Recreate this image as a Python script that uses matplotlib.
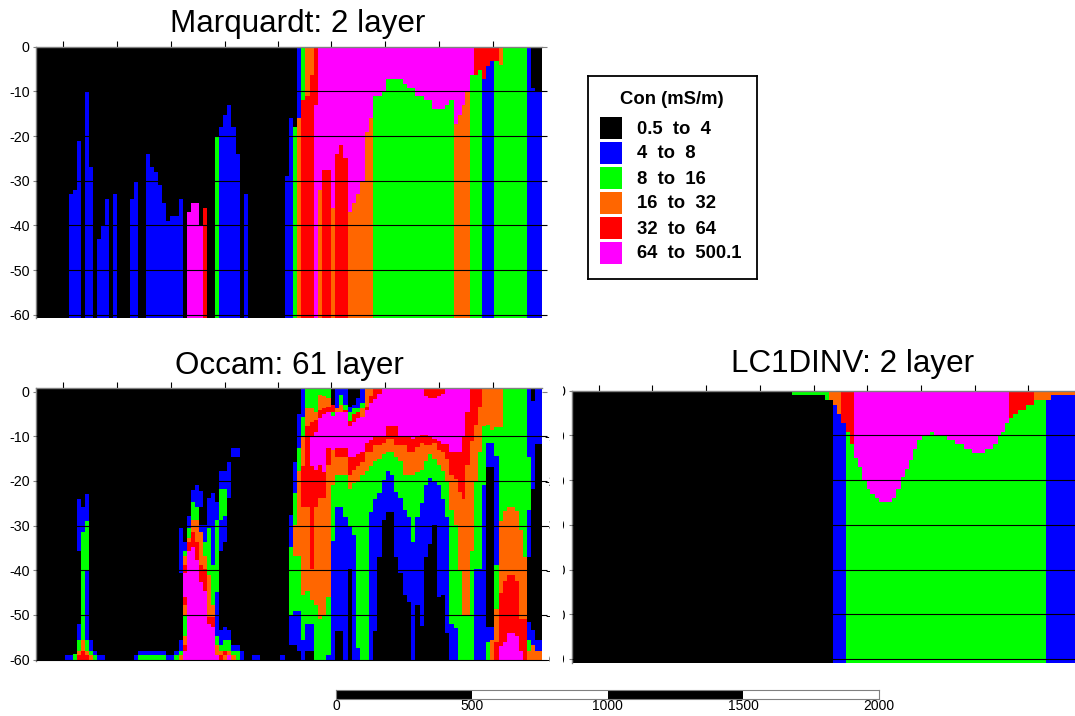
import matplotlib
matplotlib.use('Agg')
import matplotlib.pyplot as plt

plt.rcParams['font.family'] = ['Liberation Sans', 'DejaVu Sans']
plt.rcParams['axes.unicode_minus'] = False

# station edges along the line, metres
station_edges = [0, 15, 30, 45, 60, 75, 90, 105, 120, 135, 150, 165, 180, 195, 210, 225, 240, 255, 270, 285,
                 300, 315, 330, 345, 360, 375, 390, 405, 420, 435, 450, 465, 480, 495, 510, 525, 540, 555, 570, 585,
                 600, 615, 630, 645, 660, 675, 690, 705, 720, 735, 750, 765, 780, 795, 810, 825, 840, 855, 870, 885,
                 900, 917, 932, 947, 961, 976, 991, 1009, 1024, 1039, 1053, 1068, 1088, 1100, 1117, 1132, 1149, 1164,
                 1179, 1193, 1212, 1227, 1241, 1256, 1273, 1289, 1304, 1319, 1335, 1353, 1368, 1383, 1397, 1413, 1429,
                 1445, 1460, 1476, 1491, 1507, 1523, 1538, 1553, 1569, 1581, 1597, 1612, 1627, 1643, 1659, 1674, 1688,
                 1704, 1719, 1734, 1748, 1764, 1779, 1794, 1809, 1823, 1838, 1853, 1864]

class_keys = 'KBGORM'
class_labels = ['0.5  to  4', '4  to  8', '8  to  16', '16  to  32', '32  to  64', '64  to  500.1']
class_colors = ['#000000', '#0000ff', '#00ff00', '#ff6600', '#ff0000', '#ff00ff']

# each entry: first station, classes from the top down, depths of the class changes
marq_columns = [
    (0, 'K'), (8, 'KB', 33), (9, 'KB', 32), (10, 'KB', 21), (11, 'K'), (12, 'KB', 10), (13, 'KB', 27), (14, 'K'),
    (15, 'KB', 43), (16, 'KB', 40), (17, 'KB', 34), (18, 'K'), (19, 'KB', 33), (20, 'K'), (23, 'KB', 34),
    (24, 'KB', 30), (25, 'K'), (27, 'KB', 24), (28, 'KB', 27), (29, 'KB', 28), (30, 'KB', 31), (31, 'KB', 35),
    (32, 'KB', 39), (33, 'KB', 38), (35, 'KB', 34), (36, 'K'), (37, 'KM', 37), (38, 'KM', 35), (40, 'KM', 40),
    (41, 'KR', 36), (42, 'K'), (44, 'KG', 20), (45, 'KB', 18), (46, 'KB', 15.4), (47, 'KB', 13), (48, 'KB', 18),
    (49, 'KB', 24), (50, 'K'), (51, 'KB', 33), (52, 'K'), (61, 'KB', 29), (62, 'KB', 16), (63, 'KG', 18),
    (64, 'BO', 16), (65, 'GR', 12), (66, 'OR', 11), (67, 'OR', 6.3), (68, 'RM', 13), (69, 'MO', 32), (70, 'MR', 27.5),
    (72, 'MO', 36), (73, 'MR', 24), (74, 'MR', 22), (75, 'MR', 25), (76, 'MO', 37), (77, 'MO', 35), (78, 'MO', 33),
    (79, 'MO', 30), (80, 'MO', 19), (81, 'MO', 16), (82, 'MG', 11), (84, 'MG', 10), (85, 'MG', 7.3), (89, 'MG', 8.3),
    (90, 'MG', 9.3), (92, 'MG', 11), (94, 'MG', 12), (96, 'MG', 14), (99, 'MG', 13), (100, 'MG', 12), (101, 'MO', 17.2),
    (102, 'MO', 15.3), (103, 'MO', 13), (104, 'MO', 10), (105, 'MG', 6.3), (106, 'RG', 6.3), (107, 'RG', 5.3),
    (108, 'RB', 7.3), (109, 'RB', 4.3), (110, 'RB', 3.3), (111, 'RG', 3.3), (112, 'OG', 4.2), (113, 'G'), (119, 'B'),
    (120, 'KB', 9.3), (121, 'KB', 10),
]

occam_columns = [
    (0, 'K'), (7, 'KB', 59), (9, 'KG', 58.8), (10, 'KBKBGOR', 24, 35.7, 52, 55.7, 58, 59),
    (11, 'KBGOR', 25.8, 31.5, 55.7, 58), (12, 'KBGBGOR', 23, 29, 40, 55.7, 58, 59), (13, 'KBGO', 55.7, 58, 59),
    (14, 'KBG', 58, 59), (15, 'KB', 59), (17, 'K'), (24, 'KB', 59), (25, 'KBG', 58, 59), (32, 'KB', 59),
    (34, 'KBG', 58, 59), (35, 'KBKBGO', 30.6, 40.7, 55.7, 58, 59),
    (36, 'KBGORMROGORM', 33.6, 35.7, 36.8, 38.9, 40.7, 46, 47.8, 50, 54.6, 56.7, 58),
    (37, 'KBGORM', 27.8, 30.6, 32.7, 33.6, 35.7), (38, 'KBGORM', 22, 24.8, 28.8, 31.5, 34.8),
    (39, 'KBGORM', 20.8, 25.8, 28.8, 33.6, 37.7), (40, 'KBKBORM', 22.3, 25.8, 29.9, 31.5, 38.9, 42.6),
    (41, 'KBGORM', 29.9, 33.6, 36.8, 39.6, 44.7), (42, 'KBGORM', 23.8, 30.6, 41, 50.4, 52),
    (43, 'KBGORM', 22.8, 38.9, 47.8, 50.4, 52.7), (44, 'KBGBGOM', 24.8, 28.8, 44.8, 54.6, 56.7, 59),
    (45, 'KBGBKBGOR', 17.8, 21.8, 28.8, 35.7, 53.4, 56.7, 58, 59), (46, 'KBGBKBGRO', 17.8, 21.8, 27.8, 33.6, 52.7, 55.7, 58, 59),
    (47, 'KBKBGOM', 15.7, 23.8, 53.4, 55.7, 58, 59), (48, 'KBKBGO', 12.7, 14.6, 56.7, 58, 59),
    (49, 'KBKBG', 12.7, 14.6, 56.7, 58), (50, 'KB', 58), (51, 'K'), (53, 'KB', 59), (55, 'K'), (60, 'KB', 59), (61, 'K'),
    (62, 'KBGBK', 27.7, 34.8, 50, 56.7), (63, 'KBGOGBK', 15.7, 22.8, 29.9, 36.8, 49, 56.7),
    (64, 'KBGOGBK', 4.9, 12.7, 17.8, 36.8, 49, 58), (65, 'BGOROGB', 5.6, 10, 16.6, 25.8, 45.6, 55.7),
    (66, 'GOROGBK', 3.7, 7.8, 25.8, 44.7, 52, 58), (67, 'GORMROGBK', 3.7, 6.9, 10, 16.6, 39.8, 46.7, 52, 58),
    (68, 'GORMROG', 4.5, 6.4, 9, 17.5, 25.8, 47.8), (69, 'GORMROG', 0.8, 4, 6, 16.5, 23.8, 51),
    (70, 'GORMROG', 1, 3.7, 5, 18, 23.8, 50), (71, 'GORMROGB', 1.5, 3.4, 4.5, 12.7, 16.5, 46, 59),
    (72, 'KRGMOGB', 3, 4.5, 5.5, 13, 21, 33.5), (73, 'BOMROGBK', 3.7, 4.6, 12.7, 14.6, 18.7, 25.8, 53.6),
    (74, 'BGOMROGBK', 0.8, 3, 4.6, 12.7, 14.6, 18.7, 25.8, 53.6), (75, 'BGRMROGB', 3, 4, 4.5, 12.7, 14.6, 18.7, 28),
    (76, 'KBGRMROGBK', 3.5, 4.5, 6.5, 7.7, 14.6, 18.7, 21.8, 30, 39.8), (77, 'KBGRMROGB', 3, 3.7, 5, 6.9, 14.6, 17.5, 20.5, 32),
    (78, 'KBGRMROGB', 1.5, 3.7, 4.6, 6, 14, 16.6, 20, 57.5), (79, 'BGOMROG', 2.6, 3.7, 5.6, 13.6, 15.7, 18.7),
    (80, 'ORMROG', 3.4, 4, 11.5, 13.6, 17.8), (81, 'ORMROGB', 1, 2.5, 10.9, 13.6, 16.6, 27),
    (82, 'RMROGBK', 1.7, 10, 12, 15.6, 24, 53.5), (83, 'RMROGBK', 0.5, 10, 12, 15, 22.8, 37),
    (84, 'MROGBK', 10, 11.5, 14, 19.8, 28.8), (85, 'MROGBK', 7.8, 10.5, 13.6, 17.8, 27),
    (86, 'MROGBK', 7.8, 10.5, 13.6, 18.7, 27), (87, 'MROGBK', 7.8, 12, 14.6, 22.5, 37),
    (88, 'MROGBK', 10, 12, 15.6, 23.8, 40.7), (89, 'MROGBK', 10, 12, 18.7, 26.5, 45.6),
    (90, 'MROGBK', 10, 13.4, 18.7, 28, 47), (91, 'MROGB', 10.5, 13.4, 18.7, 33.6),
    (92, 'MROGBK', 10, 12.5, 18, 28, 47.8), (93, 'MROGBK', 9.6, 11.6, 17.5, 25, 52.5),
    (94, 'RMROGBK', 1, 9.6, 12, 15.5, 21, 37), (95, 'RMROGBK', 1.5, 10, 12, 14, 19.3, 34),
    (96, 'RMROGBK', 1.5, 10.5, 11.5, 15, 20, 29.8), (97, 'RMROGBK', 1, 11, 13, 16.5, 21, 46),
    (98, 'RMROGBK', 0.5, 11.8, 13.5, 17.8, 24, 45.6), (99, 'MROGBK', 11.8, 15, 20, 28, 54),
    (100, 'MROGB', 13.4, 18.7, 26.5, 52), (101, 'MROGB', 13.5, 19.5, 29.8, 53), (102, 'MROG', 13.5, 22.5, 40),
    (103, 'MROG', 10, 24, 50), (104, 'MROG', 4.5, 16.5, 50), (105, 'ROG', 11, 35.7), (106, 'ROGB', 7.5, 20, 39.8),
    (107, 'ROGB', 3.5, 13.6, 39.8), (108, 'OGB', 7.8, 21), (109, 'OGBKBG', 7.4, 11.5, 16.8, 52.7, 56),
    (110, 'OGBKBO', 8.6, 11.5, 16.8, 52.7, 55.5), (111, 'OGBGOR', 8, 14.5, 38.9, 48.7, 56),
    (112, 'OGORM', 8, 29, 45, 57), (113, 'GORM', 26.7, 42.5, 56), (114, 'GORM', 25.8, 41, 54),
    (116, 'GORM', 26.7, 42.5, 54.7), (117, 'GORM', 31, 51, 58), (118, 'GOR', 37, 51),
    (119, 'BGBKBGO', 14.6, 26.5, 37, 51.6, 55.7, 58), (120, 'KBKBO', 2, 21.7, 53.4, 56.7), (121, 'BKBO', 11.8, 55.7, 58),
]

lc_columns = [
    (0, 'K'), (54, 'GK', 1), (62, 'GK', 2), (63, 'OK', 2), (64, 'OB', 3.2), (65, 'OB', 5.3), (66, 'RB', 7.3),
    (67, 'RG', 9.2), (68, 'RG', 12), (69, 'MG', 15), (70, 'MG', 17), (71, 'MG', 20), (72, 'MG', 22), (73, 'MG', 23),
    (74, 'MG', 24), (75, 'MG', 25), (78, 'MG', 24), (79, 'MG', 22), (80, 'MG', 19.4), (81, 'MG', 17.5), (82, 'MG', 15.5),
    (83, 'MG', 13), (84, 'MG', 11), (85, 'MG', 10), (87, 'MG', 9.3), (88, 'MG', 10), (91, 'MG', 11), (93, 'MG', 12),
    (95, 'MG', 13), (97, 'MG', 14), (100, 'MG', 13), (102, 'MG', 12), (103, 'MG', 10), (104, 'MG', 9.3), (105, 'MG', 7.3),
    (106, 'RG', 6), (107, 'RG', 5.3), (108, 'RG', 4.3), (110, 'RG', 3.2), (112, 'OG', 2), (115, 'OB', 2), (116, 'OB', 1),
]

depth_ticks = [0, -10, -20, -30, -40, -50, -60]
dist_ticks = [99, 297, 496, 695, 893, 1088, 1287, 1486, 1682]
scale_edges = [0, 500, 1000, 1500, 2000]
scale_colors = ['black', 'white', 'black', 'white']

W, H = 1075, 716
fig = plt.figure(figsize=(W / 100, H / 100), dpi=100)


def px_axes(left, right, top, bottom):
    return fig.add_axes([left / W, 1 - bottom / H, (right - left) / W, (bottom - top) / H])


def draw_section(ax, columns):
    n = len(station_edges) - 1
    for i, col in enumerate(columns):
        first = col[0]
        last = columns[i + 1][0] if i + 1 < len(columns) else n
        classes = col[1]
        tops = [-2] + list(col[2:])
        bottoms = list(col[2:]) + [62]
        for c, t, b in zip(classes, tops, bottoms):
            ax.bar(station_edges[first], b - t, station_edges[last] - station_edges[first], bottom=-b, align='edge',
                   color=class_colors[class_keys.index(c)], linewidth=0, antialiased=False)


def style_section(ax, ylim, bottom_ticks, right_marks=True):
    ax.set_xlim(0, station_edges[-1])
    ax.set_ylim(*ylim)
    ax.set_yticks(depth_ticks)
    ax.set_xticks(dist_ticks)
    ax.set_xticks(bottom_ticks, minor=True)
    ax.set_xticklabels([])
    ax.tick_params(axis='x', which='major', top=True, bottom=False, length=4.5, width=0.8, color='black')
    ax.tick_params(axis='x', which='minor', top=False, bottom=True, length=3.2, width=0.8, color='black')
    ax.tick_params(axis='y', length=2, width=0.8, color='#808080', labelsize=10.3, pad=2.5)
    for name in ['right', 'bottom']:
        ax.spines[name].set_visible(False)
    for name in ['top', 'left']:
        ax.spines[name].set_color('#808080')
        ax.spines[name].set_linewidth(1)
    # depth lines run a little past the section on the right
    xmax = station_edges[-1] + (20 if right_marks else 0)
    ax.hlines(depth_ticks[1:], 0, xmax, color='black', linewidth=0.8, clip_on=False, zorder=5)
    if right_marks:
        ax.hlines(0, station_edges[-1], xmax, color='#808080', linewidth=0.8, clip_on=False, zorder=5)


ax1 = px_axes(36, 542, 46.7, 318.3)
draw_section(ax1, marq_columns)
style_section(ax1, (-60.8, 0), dist_ticks)

ax2 = px_axes(36, 542, 388.3, 661)
draw_section(ax2, occam_columns)
style_section(ax2, (-60.3, 0.75), dist_ticks[::2])

ax3 = px_axes(571.7, 1077.7, 390.7, 662.5)
draw_section(ax3, lc_columns)
style_section(ax3, (-60.8, 0), dist_ticks, right_marks=False)

# the depth labels of the third section are cut off in the original
fig.add_artist(plt.Rectangle((550 / W, 1 - 672 / H), 13 / W, 290 / H, transform=fig.transFigure,
                             facecolor='white', edgecolor='none', zorder=10))

fig.text(298 / W, 1 - 24 / H, 'Marquardt: 2 layer', fontsize=22.6, ha='center', va='center')
fig.text(289 / W, 1 - 366 / H, 'Occam: 61 layer', fontsize=22.6, ha='center', va='center')
fig.text(853 / W, 1 - 364 / H, 'LC1DINV: 2 layer', fontsize=22.6, ha='center', va='center')

# legend box
leg = px_axes(587.5, 757, 75.5, 279)
leg.set_xlim(587.5, 757)
leg.set_ylim(279, 75.5)
leg.set_xticks([])
leg.set_yticks([])
for s in leg.spines.values():
    s.set_linewidth(1.3)
    s.set_color('black')
leg.text(671.5, 100, 'Con (mS/m)', fontsize=13.3, fontweight='bold', ha='center', va='center')
for i, (lab, colr) in enumerate(zip(class_labels, class_colors)):
    yc = 128 + i * 25
    leg.add_patch(plt.Rectangle((600, yc - 11), 22, 22, facecolor=colr, edgecolor='none'))
    leg.text(637, yc + 1, lab, fontsize=13.3, fontweight='bold', ha='left', va='center')

# scale bar
bar = px_axes(336, 879, 690, 698.5)
bar.set_xlim(scale_edges[0], scale_edges[-1])
bar.set_ylim(0, 1)
for i, colr in enumerate(scale_colors):
    bar.barh(0, scale_edges[i + 1] - scale_edges[i], 1, left=scale_edges[i], align='edge', color=colr, linewidth=0)
bar.set_yticks([])
bar.set_xticks(scale_edges)
bar.tick_params(axis='x', length=0, labelsize=10, pad=0.5)
for s in bar.spines.values():
    s.set_color('#808080')
    s.set_linewidth(0.8)

fig.savefig('out.png', dpi=100)
